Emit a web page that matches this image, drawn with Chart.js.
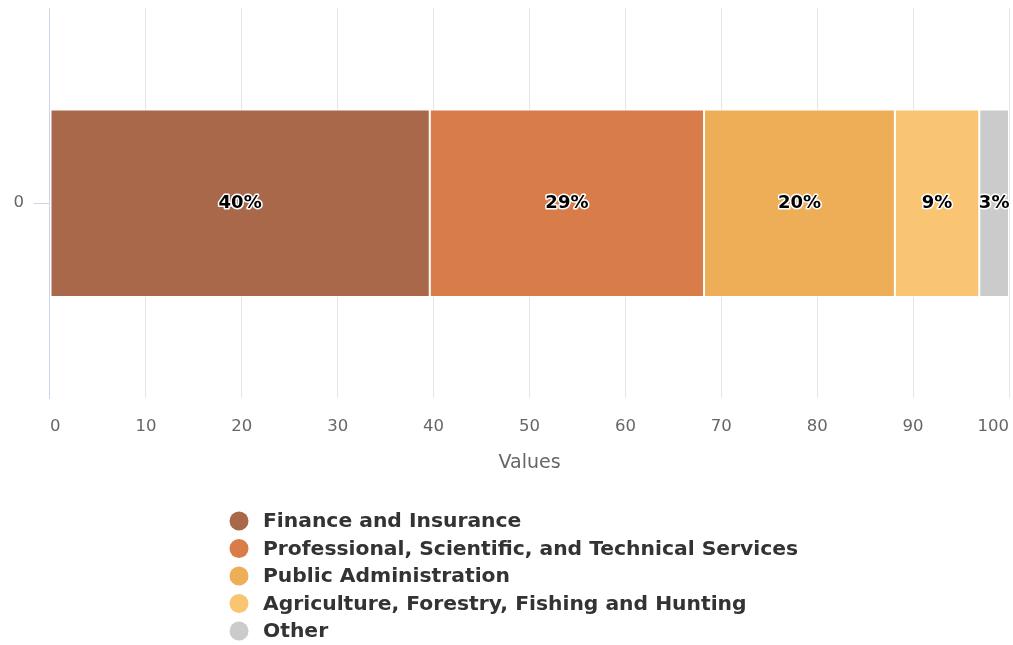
<!DOCTYPE html>
<html>
<head>
<meta charset="utf-8">
<title>Industry share</title>
<script src="https://cdn.jsdelivr.net/npm/chart.js@4.4.1/dist/chart.umd.min.js"></script>
<style>
    html, body { margin: 0; padding: 0; background: #fff; overflow: hidden; }
    #wrap { width: 1013px; height: 645px; position: relative; }
</style>
</head>
<body>
<div id="wrap"><canvas id="shareChart"></canvas></div>
<script>
// Данные
const categories = ['0'];
const seriesNames = [
    'Finance and Insurance',
    'Professional, Scientific, and Technical Services',
    'Public Administration',
    'Agriculture, Forestry, Fishing and Hunting',
    'Other'
];
const seriesValues = [39.6, 28.6, 19.9, 8.8, 3.1];
const seriesColors = ['#a9684a', '#d87c4a', '#edae57', '#f9c573', '#cbcbcb'];
const xTicks = [0, 10, 20, 30, 40, 50, 60, 70, 80, 90, 100];

const tickFont = { family: '"DejaVu Sans", sans-serif', size: 16.5 };
const titleFont = { family: '"DejaVu Sans", sans-serif', size: 19 };

// Подписи процентов в центре сегментов
const percentLabels = {
    id: 'percentLabels',
    afterDatasetsDraw(chart) {
        const ctx = chart.ctx;
        ctx.save();
        ctx.font = 'bold 18px "DejaVu Sans", sans-serif';
        ctx.textAlign = 'center';
        ctx.textBaseline = 'middle';
        ctx.lineJoin = 'round';
        chart.data.datasets.forEach((ds, i) => {
            chart.getDatasetMeta(i).data.forEach((bar, j) => {
                const p = bar.getCenterPoint();
                const text = Math.round(ds.data[j]) + '%';
                ctx.lineWidth = 3;
                ctx.strokeStyle = '#ffffff';
                ctx.strokeText(text, p.x, p.y);
                ctx.fillStyle = '#000000';
                ctx.fillText(text, p.x, p.y);
            });
        });
        ctx.restore();
    }
};

// Вертикальная легенда под графиком
const columnLegend = {
    id: 'columnLegend',
    afterDraw(chart) {
        const ctx = chart.ctx;
        const x0 = 239, y0 = 521, step = 27.5;
        ctx.save();
        ctx.font = 'bold 20.3px "DejaVu Sans", sans-serif';
        ctx.textBaseline = 'middle';
        chart.data.datasets.forEach((ds, i) => {
            const y = y0 + i * step;
            ctx.beginPath();
            ctx.arc(x0, y, 9.5, 0, Math.PI * 2);
            ctx.fillStyle = ds.backgroundColor;
            ctx.fill();
            ctx.fillStyle = '#333333';
            ctx.fillText(ds.label, 263, y + 1);
        });
        ctx.restore();
    }
};

const ctx = document.getElementById('shareChart').getContext('2d');
const shareChart = new Chart(ctx, {
    type: 'bar',
    data: {
        labels: categories,
        datasets: seriesNames.map((name, i) => ({
            label: name,
            data: [seriesValues[i]],
            backgroundColor: seriesColors[i],
            borderColor: '#ffffff',
            borderWidth: 1,
            borderSkipped: false,
            barPercentage: 0.48,
            categoryPercentage: 1
        }))
    },
    options: {
        indexAxis: 'y',
        responsive: true,
        maintainAspectRatio: false,
        animation: false,
        layout: {
            padding: { top: 8, left: 3.5, right: 0, bottom: 171 }
        },
        plugins: {
            legend: { display: false },
            tooltip: { enabled: false }
        },
        scales: {
            x: {
                stacked: true,
                min: 0,
                max: 100,
                afterBuildTicks(axis) {
                    axis.ticks = xTicks.map(v => ({ value: v }));
                },
                ticks: {
                    color: '#666666',
                    font: tickFont,
                    padding: 4,
                    maxRotation: 0,
                    align: 'inner'
                },
                grid: {
                    // линия у нуля не перекрывает ось Y
                    color: c => c.index === 0 ? 'rgba(0,0,0,0)' : '#e6e6e6',
                    drawTicks: true,
                    tickLength: 14,
                    tickColor: 'rgba(0,0,0,0)'
                },
                border: { display: false },
                title: {
                    display: true,
                    text: 'Values',
                    color: '#666666',
                    font: titleFont,
                    padding: { top: 11, bottom: 0 }
                }
            },
            y: {
                stacked: true,
                // без запаса сверху под подпись категории
                afterFit(axis) {
                    axis.paddingTop = 0;
                    axis.paddingBottom = 0;
                },
                ticks: {
                    color: '#666666',
                    font: tickFont,
                    padding: 10
                },
                grid: {
                    color: '#ccd6eb',
                    drawOnChartArea: false,
                    drawTicks: true,
                    tickLength: 16,
                    offset: false
                },
                border: { color: '#ccd6eb' }
            }
        }
    },
    plugins: [percentLabels, columnLegend]
});
</script>
</body>
</html>
